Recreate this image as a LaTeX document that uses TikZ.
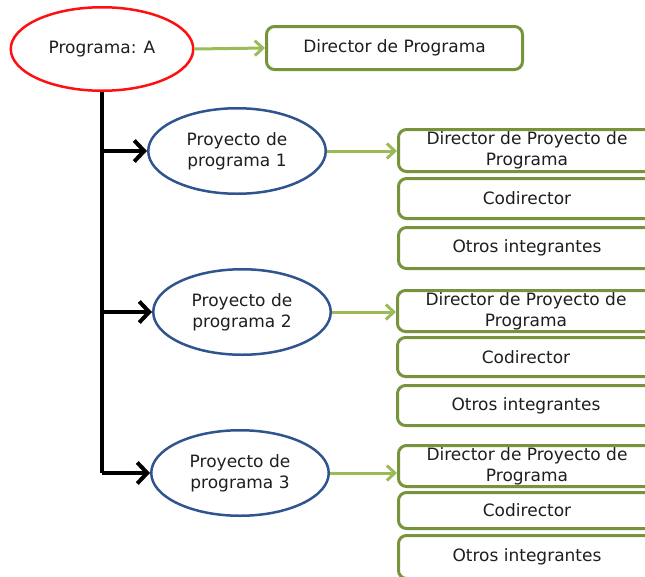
\documentclass[tikz,border=0pt]{standalone}
\usepackage{fontspec}
\setmainfont{DejaVu Sans}
\usetikzlibrary{arrows.meta,shapes.geometric}
\definecolor{redline}{HTML}{FF1010}
\definecolor{blueline}{HTML}{2F5490}
\definecolor{greenbox}{HTML}{77933C}
\definecolor{greenarrow}{HTML}{9BBB59}
\definecolor{txt}{HTML}{1E1E1E}
\begin{document}
\begin{tikzpicture}[x=1pt,y=-1pt,
  font=\fontsize{17}{21}\selectfont, text=txt,
  progbox/.style={ellipse, draw=redline, line width=2.5pt, minimum width=182.5pt, minimum height=83.5pt, inner sep=0pt},
  projbox/.style={ellipse, draw=blueline, line width=2.5pt, minimum width=177.5pt, minimum height=85.5pt, inner sep=0pt, align=center},
  rolebox/.style={rectangle, rounded corners=8pt, draw=greenbox, line width=3pt, fill=white, minimum width=257pt, inner sep=0pt, align=center},
  trunk/.style={draw=black, line width=4pt},
  trunkarrow/.style={draw=black, line width=4pt, -{Straight Barb[length=10pt,width=21pt]}},
  greenlink/.style={draw=greenarrow, line width=3pt, -{Straight Barb[length=8pt,width=15pt]}}
]
\useasboundingbox (0,0) rectangle (645,576);

\node[progbox] (prog) at (102,49) {Programa: A};
\node[rolebox, minimum width=256pt, minimum height=43pt] (dp) at (394.5,48) {Director de Programa};

\node[projbox] (p1) at (237,151) {Proyecto de\\programa 1};
\node[projbox] (p2) at (242,312) {Proyecto de\\programa 2};
\node[projbox] (p3) at (240,473) {Proyecto de\\programa 3};

% group 1
\node[rolebox, minimum height=42pt] (b1a) at (527,150.5) {Director de Proyecto de\\Programa};
\node[rolebox, minimum height=40pt] (b1b) at (527,198.5) {Codirector};
\node[rolebox, minimum height=41pt] (b1c) at (527,248) {Otros integrantes};
% group 2
\node[rolebox, minimum height=41pt] (b2a) at (526,311) {Director de Proyecto de\\Programa};
\node[rolebox, minimum height=39pt] (b2b) at (526,357) {Codirector};
\node[rolebox, minimum height=40pt] (b2c) at (526,405.5) {Otros integrantes};
% group 3
\node[rolebox, minimum height=41pt] (b3a) at (527,466) {Director de Proyecto de\\Programa};
\node[rolebox, minimum height=36pt] (b3b) at (527,510.5) {Codirector};
\node[rolebox, minimum height=43pt] (b3c) at (527,557) {Otros integrantes};

% connectors
\draw[greenlink] (prog.east) -- (dp.west);
\draw[trunk] (prog.south) -- (prog.south |- p3.west);
\draw[trunkarrow] (prog.south |- p1.west) -- (p1.west);
\draw[trunkarrow] (prog.south |- p2.west) -- (p2.west);
\draw[trunkarrow] (prog.south |- p3.west) -- (p3.west);
\draw[greenlink] (p1.east) -- (p1.east -| b1a.west);
\draw[greenlink] (p2.east) -- (p2.east -| b2a.west);
\draw[greenlink] (p3.east) -- (p3.east -| b3a.west);
\end{tikzpicture}
\end{document}
